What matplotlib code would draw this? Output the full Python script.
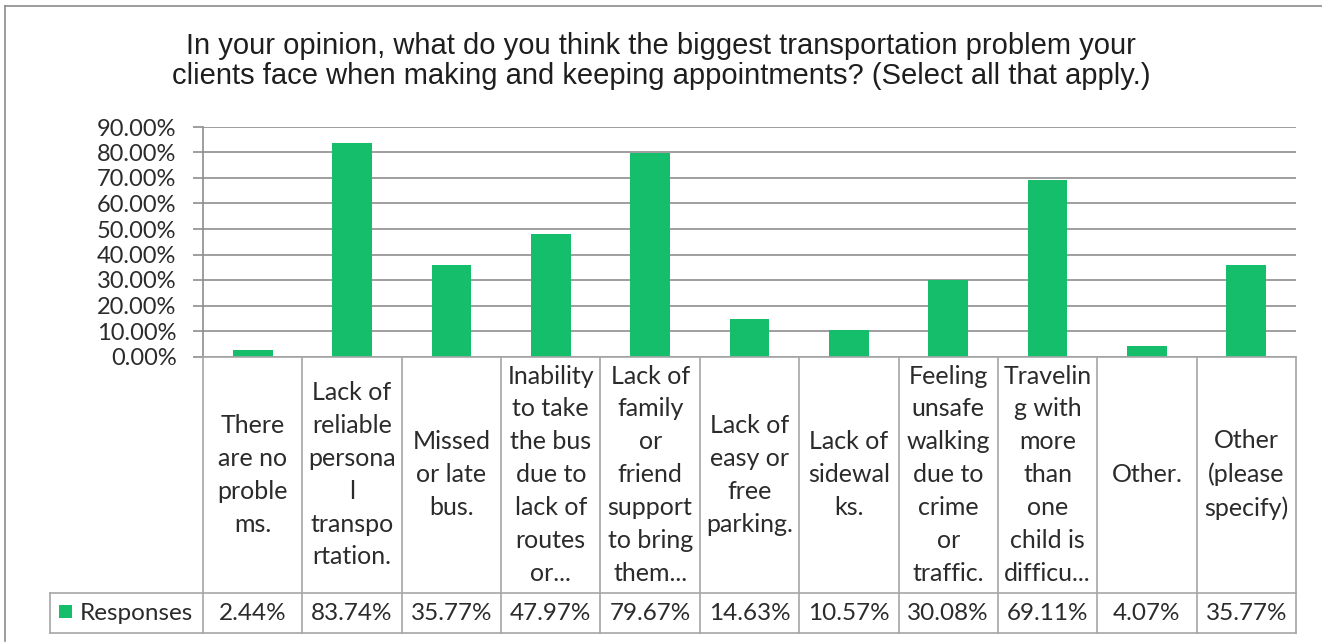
import matplotlib
matplotlib.use("Agg")
import matplotlib.pyplot as plt
from matplotlib.lines import Line2D
from matplotlib.patches import Rectangle
from matplotlib.transforms import blended_transform_factory

# --- data ---
categories = [
    "There\nare no\nproble\nms.",
    "Lack of\nreliable\npersona\nl\ntranspo\nrtation.",
    "Missed\nor late\nbus.",
    "Inability\nto take\nthe bus\ndue to\nlack of\nroutes\nor...",
    "Lack of\nfamily\nor\nfriend\nsupport\nto bring\nthem...",
    "Lack of\neasy or\nfree\nparking.",
    "Lack of\nsidewal\nks.",
    "Feeling\nunsafe\nwalking\ndue to\ncrime\nor\ntraffic.",
    "Travelin\ng with\nmore\nthan\none\nchild is\ndifficu...",
    "Other.",
    "Other\n(please\nspecify)",
]
responses = [2.44, 83.74, 35.77, 47.97, 79.67, 14.63, 10.57, 30.08, 69.11, 4.07, 35.77]
yticks = [0, 10, 20, 30, 40, 50, 60, 70, 80, 90]
series_name = "Responses"
title = ("In your opinion, what do you think the biggest transportation problem your\n"
         "clients face when making and keeping appointments? (Select all that apply.)")

W, H = 1322, 642
green = "#14BE6A"
grid_c = "#8E8E8E"
table_c = "#A6A6A6"
text_c = "#2B2B2B"
body_font = "Lato"


def fy(py):
    # pixel row (from top) -> figure fraction
    return 1 - py / H


def fx(px):
    return px / W


fig = plt.figure(figsize=(W / 100, H / 100), dpi=100)
fig.patch.set_facecolor("white")

x0, x1 = 203, 1296
y_top, y_zero = 127, 356.5
ax = fig.add_axes([fx(x0), fy(y_zero), (x1 - x0) / W, (y_zero - y_top) / H])

n = len(categories)
xs = list(range(n))
ax.bar(xs, responses, width=0.4, color=green, zorder=3)
ax.set_xlim(-0.5, n - 0.5)
ax.set_ylim(0, 90)
ax.set_yticks(yticks)
ax.set_yticklabels([f"{v:.2f}%" for v in yticks], fontsize=17,
                   family=body_font, color=text_c)
ax.set_xticks([])
ax.yaxis.grid(True, color=grid_c, linewidth=1.2, zorder=0)
ax.tick_params(axis="y", length=7, width=1.2, color=grid_c, pad=12)
for s in ["top", "right", "bottom"]:
    ax.spines[s].set_visible(False)
ax.spines["left"].set_color(grid_c)
ax.spines["left"].set_linewidth(1.2)

# --- data table below the axis ---
tr = blended_transform_factory(ax.transData, fig.transFigure)
row_top, row_bot = 593, 633
legend_left = 50

for i in range(n + 1):
    xb = i - 0.5
    fig.add_artist(Line2D([xb, xb], [fy(y_zero), fy(row_bot)], transform=tr,
                          color=table_c, linewidth=1.2))
for py in (row_top, row_bot):
    fig.add_artist(Line2D([fx(legend_left), fx(x1)], [fy(py), fy(py)],
                          transform=fig.transFigure, color=table_c, linewidth=1.2))
fig.add_artist(Line2D([fx(legend_left), fx(legend_left)], [fy(row_top), fy(row_bot)],
                      transform=fig.transFigure, color=table_c, linewidth=1.2))
fig.add_artist(Line2D([fx(x0), fx(x1)], [fy(y_zero), fy(y_zero)],
                      transform=fig.transFigure, color=table_c, linewidth=1.2))

label_mid = (y_zero + row_top) / 2
row_mid = (row_top + row_bot) / 2
for i, (cat, val) in enumerate(zip(categories, responses)):
    fig.text(i, fy(label_mid), cat, transform=tr, ha="center", va="center",
             fontsize=18, family=body_font, color=text_c, linespacing=1.52)
    fig.text(i, fy(row_mid), f"{val:.2f}%", transform=tr, ha="center",
             va="center", fontsize=17.5, family=body_font, color=text_c)

# legend key inside the table
fig.add_artist(Rectangle((fx(59), fy(618)), 13 / W, 13 / H, transform=fig.transFigure,
                         facecolor=green, edgecolor="none"))
fig.text(fx(80), fy(row_mid), series_name, ha="left", va="center", fontsize=17.5,
         family=body_font, color=text_c)

# title
fig.text(0.5, fy(61), title, ha="center", va="center", fontsize=21,
         family="Liberation Sans", color="#1E1E1E", linespacing=1.12)

# chart border
fig.add_artist(Line2D([fx(5), fx(5)], [fy(6), fy(641)], transform=fig.transFigure,
                      color="#8C8C8C", linewidth=1.2))
fig.add_artist(Line2D([fx(5), 1], [fy(6), fy(6)], transform=fig.transFigure,
                      color="#8C8C8C", linewidth=1.2))

fig.savefig("out.png", dpi=100, facecolor="white")
